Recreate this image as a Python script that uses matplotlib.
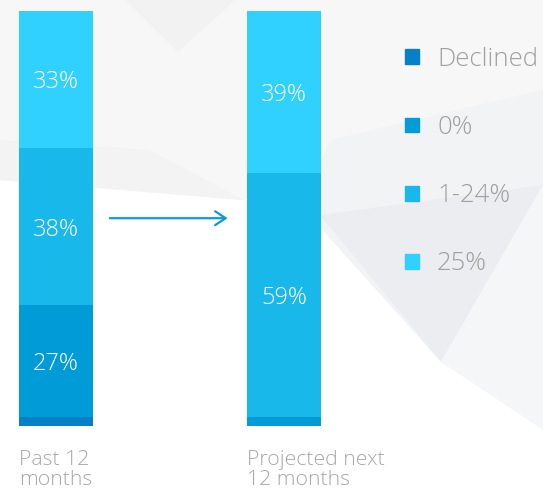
import matplotlib
matplotlib.use("Agg")
import matplotlib.pyplot as plt
from matplotlib.patches import Patch, Polygon

plt.rcParams['font.family'] = ['Open Sans', 'DejaVu Sans']

# data
periods = ["Past 12\nmonths", "Projected next\n12 months"]
categories = ["Declined", "0%", "1-24%", "25%"]
declined = [2, 0]
zero = [27, 2]
low = [38, 59]
high = [33, 39]
colors = ["#0681c8", "#019cd7", "#19b8eb", "#31d1ff"]

fig = plt.figure(figsize=(5.43, 4.91), dpi=100)

# light background facets
bg = fig.add_axes([0, 0, 1, 1], zorder=0)
bg.set_xlim(0, 543)
bg.set_ylim(491, 0)
bg.axis("off")
shapes = [
    ([(0, 0), (543, 0), (543, 120), (330, 150), (243, 200), (0, 180)], "#f7f7f8"),
    ([(125, 0), (235, 0), (178, 52)], "#f2f2f3"),
    ([(0, 140), (150, 150), (243, 200), (0, 180)], "#f3f3f4"),
    ([(330, 140), (543, 90), (543, 185), (441, 362), (300, 205)], "#f2f3f5"),
    ([(320, 215), (543, 185), (441, 362)], "#ebedf0"),
    ([(441, 362), (543, 185), (543, 430)], "#f5f6f7"),
]
for pts, c in shapes:
    bg.add_patch(Polygon(pts, closed=True, facecolor=c, edgecolor="none"))

w = 74 / 228
ax = fig.add_axes([19 / 543, 65.3 / 491, 302 / 543, 415 / 491], zorder=1)
ax.patch.set_alpha(0)
x = [0, 1]
bottom = [0, 0]
series = [declined, zero, low, high]
for vals, c, name in zip(series, colors, categories):
    bars = ax.bar(x, vals, width=w, bottom=bottom, color=c, label=name)
    for xi, v, b in zip(x, vals, bottom):
        if v >= 10:
            ax.text(xi, b + v / 2, f"{v}%", ha="center", va="center_baseline",
                    color="white", fontsize=17, fontweight="light")
    bottom = [b + v for b, v in zip(bottom, vals)]

ax.set_xlim(-w / 2, 1 + w / 2)
ax.set_ylim(0, 100)
ax.axis("off")

for xi, lab in zip(x, periods):
    ax.text(xi - w / 2, -5.8, lab, ha="left", va="top", color="#a8a8a8",
            fontsize=15.3, fontweight="light", linespacing=1.02, clip_on=False)

ax.annotate("", xy=(1 - w / 2 - 0.073, 50), xytext=(w / 2 + 0.062, 50),
            arrowprops=dict(arrowstyle="->,head_length=0.75,head_width=0.5",
                            color="#0a9bd6", lw=1.6))

handles = [Patch(color=c) for c in colors]
fig.legend(handles, categories, loc="upper left",
           bbox_to_anchor=(405 / 543, 1 - 47 / 491), frameon=False,
           labelcolor="#a0a0a0", handlelength=0.55,
           handleheight=0.51, handletextpad=0.7, labelspacing=1.68,
           borderpad=0, borderaxespad=0, prop={"weight": "light", "size": 18.5})

fig.savefig("out.png", dpi=100)
